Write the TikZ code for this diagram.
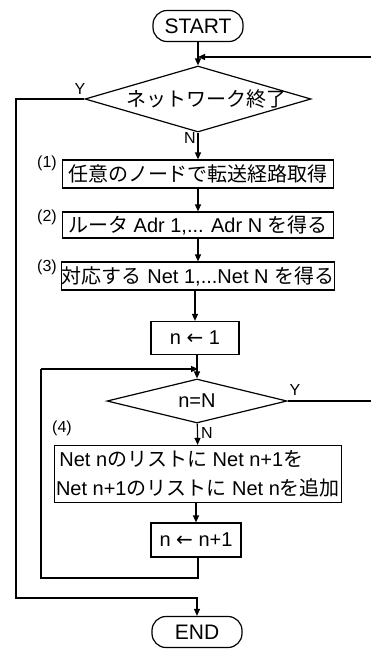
\documentclass[tikz,border=0pt]{standalone}
\usepackage{fontspec}
\setmainfont{Liberation Sans}
\newfontfamily\cjk{Noto Sans CJK JP}
\newfontfamily\sym{DejaVu Sans}
\usetikzlibrary{shapes.geometric,arrows.meta}
\begin{document}
\begin{tikzpicture}[x=1pt,y=-1pt, line width=1.2pt,
  box/.style={draw, rectangle, inner sep=0pt, font=\fontsize{20}{29}\selectfont, align=center},
  term/.style={draw, rectangle, rounded corners=14pt, inner sep=0pt, minimum width=90pt, minimum height=31pt, font=\fontsize{21}{24}\selectfont},
  dia/.style={draw, diamond, inner sep=0pt},
  dtxt/.style={inner sep=0pt, font=\fontsize{20}{24}\selectfont},
  lab/.style={inner sep=0pt, font=\fontsize{16}{18}\selectfont},
  arr/.style={-{Triangle[length=7pt,width=6pt]}},
]
\useasboundingbox (0,0) rectangle (371,657);

\node[term] (start) at (198,26) {START};
\node[dia, minimum width=226pt, minimum height=66pt] (d1) at (198,99) {};
\node[dtxt] (d1t) at (206,99) {\cjk ネットワーク終了};
\node[box, minimum width=271pt, minimum height=28pt] (b1) at (198,174) {\cjk 任意のノードで転送経路取得};
\node[box, minimum width=271pt, minimum height=26pt] (b2) at (198,225) {{\cjk ルータ} Adr 1,... Adr N {\cjk を得る}};
\node[box, minimum width=271pt, minimum height=28pt] (b3) at (198,276) {{\cjk 対応する} Net 1,...Net N {\cjk を得る}};
\node[box, minimum width=88pt, minimum height=33pt] (n1) at (195,338) {n {\sym ←} 1};
\node[dia, minimum width=180pt, minimum height=44pt] (d2) at (197,401) {};
\node[dtxt] (d2t) at (197,401) {n=N};
\node[box, align=left, minimum width=287pt, minimum height=57pt] (b4) at (198,474) {\,Net n{\cjk のリストに} Net n+1{\cjk を}\\Net n+1{\cjk のリストに} Net n{\cjk を追加}};
\node[box, minimum width=90pt, minimum height=34pt] (b5) at (196,540) {n {\sym ←} n+1};
\node[term] (end) at (197,632) {END};

\node[lab] (l1) at (47,163) {(1)};
\node[lab] (l2) at (47,217) {(2)};
\node[lab] (l3) at (47,267) {(3)};
\node[lab] (l4) at (62,428) {(4)};
\node[lab] (y1) at (80,89) {Y};
\node[lab] (n1l) at (190,138) {N};
\node[lab] (y2) at (295,390) {Y};
\node[lab] (n2l) at (207,433) {N};

\coordinate (j1) at (198,57);
\coordinate (r1) at (371,57);
\coordinate (oL) at (16,99);
\coordinate (oB) at (16,598);
\coordinate (j2) at (198,369);
\coordinate (iL) at (41,369);
\coordinate (iB) at (41,578);
\coordinate (ib) at (198,578);
\coordinate (r2) at (371,401);

\draw[arr] (start) -- (d1);
\draw[arr] (r1) -- (j1);
\draw[arr] (d1) -- (b1);
\draw[arr] (b1) -- (b2);
\draw[arr] (b2) -- (b3);
\draw[arr] (b3.south -| n1.north) -- (n1);
\draw[arr] (n1.south -| d2.north) -- (d2);
\draw[arr] (iL) -- (j2);
\draw[arr] (d2) -- (b4);
\draw[arr] (b4.south -| b5.north) -- (b5);
\draw (b5.south -| ib) -- (ib) -- (iB) -- (iL);
\draw (d2.east) -- (r2);
\draw[arr] (d1.west) -- (oL) -- (oB) -| (end.north);
\end{tikzpicture}
\end{document}
